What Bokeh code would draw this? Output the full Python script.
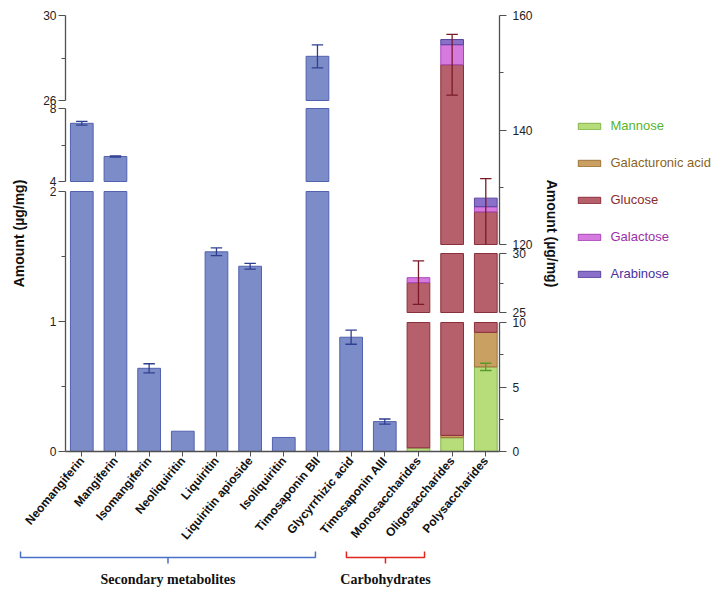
import math
from bokeh.plotting import figure
from bokeh.models import Range1d, LinearAxis, FixedTicker, Legend, LegendItem
from bokeh.layouts import row, column
from bokeh.core.properties import value
from bokeh.embed import file_html
from bokeh.resources import INLINE

# ---------------- data ----------------
metabolites = ["Neomangiferin", "Mangiferin", "Isomangiferin", "Neoliquiritin", "Liquiritin",
               "Liquiritin apioside", "Isoliquiritin", "Timosaponin BII", "Glycyrrhizic acid",
               "Timosaponin AIII"]
metab_mean = [7.19, 5.37, 0.64, 0.156, 1.536, 1.425, 0.108, 28.08, 0.879, 0.23]
metab_err = [0.10, 0.03, 0.035, 0.0, 0.03, 0.022, 0.0, 0.54, 0.054, 0.02]

carbs = ["Monosaccharides", "Oligosaccharides", "Polysaccharides"]
sugars = ["Mannose", "Galacturonic acid", "Glucose", "Galactose", "Arabinose"]
mannose = [0.28, 1.07, 6.56]
galacturonic = [0.0, 0.18, 2.68]
glucose = [27.25, 150.15, 116.46]
galactose = [0.42, 3.5, 0.9]
arabinose = [0.0, 0.9, 1.5]
mannose_err = [0.0, 0.0, 0.28]
galacturonic_err = [0.0, 0.0, 0.0]
glucose_err = [1.84, 5.3, 5.8]
galactose_err = [0.0, 0.0, 0.0]
arabinose_err = [0.0, 0.0, 0.0]

# group name, bracket start, bracket end (category units)
groups = [("Secondary metabolites", -1.82, 6.94), ("Carbohydrates", 7.86, 10.18)]

left_breaks = [(0, 2), (4, 8), (26, 30)]
left_major = [0, 1, 2, 4, 8, 26, 30]
left_minor = [0.5, 1.5, 6, 28]
right_breaks = [(0, 10), (25, 30), (120, 160)]
right_major = [0, 5, 10, 25, 30, 120, 140, 160]
right_minor = [2.5, 7.5, 27.5, 130, 150]

# ---------------- styles ----------------
BLUE_FILL, BLUE_LINE, BLUE_ERR = "#7b8cc8", "#5262ae", "#2f3f8f"
sugar_fill = ["#b7dc7a", "#c9a062", "#b5606b", "#d77ae0", "#8a70c8"]
sugar_line = ["#82b54a", "#9c7438", "#8a2f3c", "#a848b8", "#5a43a0"]
sugar_err = ["#5a9a2a", "#7a5420", "#7a1a28", "#8a2a9a", "#3a2a80"]
sugar_text = ["#56b52c", "#8a6424", "#8b2c2c", "#9b30a8", "#4a30a0"]
AXIS_COLOR = "#505050"
FONT = "Liberation Sans"

# ---------------- layout ----------------
FRAME_W, FRAME_H = 434, 436
BORDER_L, BORDER_T, BORDER_R, BORDER_B = 65, 15, 66, 95
X_START, X_END = -0.484, 12.407
LEFT_PX = [(0, 260), (270, 343), (351, 436)]
RIGHT_PX = [(0, 129), (139, 198), (207, 436)]
BAR_W = 0.675
CAP_HALF = 0.17
TOTAL_W = 720
MAIN_W = BORDER_L + FRAME_W + BORDER_R
MAIN_H = BORDER_T + FRAME_H + BORDER_B
LEG_W = TOTAL_W - MAIN_W
BR_H = 38


def to_virtual(v, breaks, px):
    for (d0, d1), (p0, p1) in zip(breaks, px):
        if d0 <= v <= d1:
            return p0 + (v - d0) / (d1 - d0) * (p1 - p0)
    raise ValueError(v)


def seg_range(d0, d1, p0, p1):
    s = (d1 - d0) / (p1 - p0)
    start = d0 - p0 * s
    return Range1d(start, start + FRAME_H * s)


def dash_for(px):
    parts = []
    for k, (p0, p1) in enumerate(px):
        parts.append(p1 - p0)
        if k + 1 < len(px):
            parts.append(px[k + 1][0] - p1)
    parts.append(100)
    return " ".join(str(int(round(v))) for v in parts)


p = figure(frame_width=FRAME_W, frame_height=FRAME_H,
           x_range=Range1d(X_START, X_END), y_range=Range1d(0, FRAME_H),
           output_backend="svg", toolbar_location=None,
           min_border_left=BORDER_L, min_border_top=BORDER_T,
           min_border_right=BORDER_R, min_border_bottom=BORDER_B,
           outline_line_color=None, background_fill_color="white", border_fill_color="white")
p.grid.visible = False

for k, ((d0, d1), (p0, p1)) in enumerate(zip(left_breaks, LEFT_PX)):
    p.extra_y_ranges[f"L{k}"] = seg_range(d0, d1, p0, p1)
for k, ((d0, d1), (p0, p1)) in enumerate(zip(right_breaks, RIGHT_PX)):
    p.extra_y_ranges[f"R{k}"] = seg_range(d0, d1, p0, p1)


def style_axis(ax):
    ax.axis_line_color = AXIS_COLOR
    ax.axis_line_width = 1.3
    ax.major_tick_line_color = AXIS_COLOR
    ax.minor_tick_line_color = AXIS_COLOR
    ax.major_tick_line_width = 1.2
    ax.minor_tick_line_width = 1.2
    ax.major_tick_out = 7
    ax.major_tick_in = 0
    ax.minor_tick_out = 4
    ax.minor_tick_in = 0
    ax.major_label_text_font = FONT
    ax.major_label_text_font_size = "12px"
    ax.major_label_text_color = "#222222"
    ax.axis_label_text_font = FONT
    ax.axis_label_text_font_size = "14px"
    ax.axis_label_text_font_style = "bold"
    ax.axis_label_text_color = "#111111"


# left axis
lmaj = [to_virtual(v, left_breaks, LEFT_PX) for v in left_major]
lmin = [to_virtual(v, left_breaks, LEFT_PX) for v in left_minor]
yl = p.yaxis[0]
yl.ticker = FixedTicker(ticks=lmaj, minor_ticks=lmin)
yl.major_label_overrides = {t: str(v) for t, v in zip(lmaj, left_major)}
style_axis(yl)
yl.axis_line_dash = dash_for(LEFT_PX)
yl.major_label_standoff = 2
yl.axis_label = "Amount (µg/mg)"
yl.axis_label_standoff = 13

# right axis
rmaj = [to_virtual(v, right_breaks, RIGHT_PX) for v in right_major]
rmin = [to_virtual(v, right_breaks, RIGHT_PX) for v in right_minor]
yr = LinearAxis(ticker=FixedTicker(ticks=rmaj, minor_ticks=rmin))
yr.major_label_overrides = {t: str(v) for t, v in zip(rmaj, right_major)}
style_axis(yr)
yr.axis_line_dash = dash_for(RIGHT_PX)
yr.major_label_standoff = 6
yr.axis_label = "Amount (µg/mg)"
yr.axis_label_standoff = 8
p.add_layout(yr, "right")

# x axis
all_cats = metabolites + carbs
xa = p.xaxis[0]
xa.ticker = FixedTicker(ticks=list(range(len(all_cats))), minor_ticks=[])
xa.major_label_overrides = {i: name for i, name in enumerate(all_cats)}
xa.major_label_orientation = math.radians(50)
xa.axis_line_color = AXIS_COLOR
xa.axis_line_width = 1.3
xa.major_tick_line_color = AXIS_COLOR
xa.major_tick_out = 5
xa.major_tick_in = 0
xa.minor_tick_line_color = None
xa.major_label_text_font = FONT
xa.major_label_text_font_size = "12px"
xa.major_label_text_font_style = "bold"
xa.major_label_text_color = "#111111"
xa.major_label_standoff = 2


def add_pieces(xs, bottoms, tops, breaks, prefix, fill, line):
    for k, (d0, d1) in enumerate(breaks):
        px, pb, pt = [], [], []
        for x, b, t in zip(xs, bottoms, tops):
            lo, hi = max(b, d0), min(t, d1)
            if hi > lo:
                px.append(x); pb.append(lo); pt.append(hi)
        if px:
            p.vbar(x=px, bottom=pb, top=pt, width=BAR_W, y_range_name=f"{prefix}{k}",
                   fill_color=fill, line_color=line, line_width=1)


def add_errors(xs, centers, errs, breaks, prefix, color):
    for k, (d0, d1) in enumerate(breaks):
        x0, y0, x1, y1 = [], [], [], []
        for x, c, e in zip(xs, centers, errs):
            if e <= 0 or not (d0 <= c <= d1):
                continue
            lo, hi = c - e, c + e
            x0.append(x); x1.append(x); y0.append(max(lo, d0)); y1.append(min(hi, d1))
            if hi <= d1:
                x0.append(x - CAP_HALF); x1.append(x + CAP_HALF); y0.append(hi); y1.append(hi)
            if lo >= d0:
                x0.append(x - CAP_HALF); x1.append(x + CAP_HALF); y0.append(lo); y1.append(lo)
        if x0:
            p.segment(x0=x0, y0=y0, x1=x1, y1=y1, y_range_name=f"{prefix}{k}",
                      line_color=color, line_width=1.3)


# secondary metabolites
mx = list(range(len(metabolites)))
add_pieces(mx, [0] * len(mx), metab_mean, left_breaks, "L", BLUE_FILL, BLUE_LINE)

# carbohydrates (stacked)
cx = [len(metabolites) + j for j in range(len(carbs))]
series = [mannose, galacturonic, glucose, galactose, arabinose]
series_err = [mannose_err, galacturonic_err, glucose_err, galactose_err, arabinose_err]
base = [0.0] * len(carbs)
err_calls = []
for i, vals in enumerate(series):
    tops = [b + v for b, v in zip(base, vals)]
    xs_nz = [x for x, v in zip(cx, vals) if v > 0]
    b_nz = [b for b, v in zip(base, vals) if v > 0]
    t_nz = [t for t, v in zip(tops, vals) if v > 0]
    add_pieces(xs_nz, b_nz, t_nz, right_breaks, "R", sugar_fill[i], sugar_line[i])
    err_calls.append((list(cx), list(tops), series_err[i], sugar_err[i]))
    base = tops

add_errors(mx, metab_mean, metab_err, left_breaks, "L", BLUE_ERR)
for xs, cs, es, col in err_calls:
    add_errors(xs, cs, es, right_breaks, "R", col)

# ---------------- legend figure ----------------
# (frames in a row share vertical alignment: legend y measured from frame bottom)
LEG_X0 = 9.5
LEG_FIRST_CENTER = 128   # px from top of page
LEG_STEP = 37.1
ITEM_H = 16
FRAME_BOTTOM = BORDER_T + FRAME_H
lg = figure(width=LEG_W, height=MAIN_H, x_range=Range1d(0, LEG_W), y_range=Range1d(0, MAIN_H),
            x_axis_type=None, y_axis_type=None, toolbar_location=None, output_backend="svg",
            min_border=0, outline_line_color=None, background_fill_color="white",
            border_fill_color="white")
lg.grid.visible = False
for i, name in enumerate(sugars):
    r = lg.vbar(x=[-5000], bottom=[-5000], top=[-4999], width=1,
                fill_color=sugar_fill[i], line_color=sugar_line[i])
    r.visible = False
    cy = LEG_FIRST_CENTER + i * LEG_STEP
    leg = Legend(items=[LegendItem(label=name, renderers=[r])],
                 location=(LEG_X0, FRAME_BOTTOM - cy - ITEM_H / 2),
                 padding=0, margin=0, spacing=0, border_line_color=None,
                 background_fill_alpha=0, glyph_width=28, glyph_height=8,
                 label_standoff=8, label_height=8,
                 label_text_font=FONT, label_text_font_size="13px",
                 label_text_color=sugar_text[i])
    lg.add_layout(leg)

# ---------------- bracket figure ----------------
ppu = FRAME_W / (X_END - X_START)
bx_start = X_START - BORDER_L / ppu
bf = figure(width=TOTAL_W, height=BR_H, x_range=Range1d(bx_start, bx_start + TOTAL_W / ppu),
            y_range=Range1d(BR_H, 0), x_axis_type=None, y_axis_type=None,
            toolbar_location=None, output_backend="svg", min_border=0,
            outline_line_color=None, background_fill_color="white", border_fill_color="white")
bf.grid.visible = False
bracket_colors = ["#4a6fc6", "#e0261f"]
for (name, xa0, xa1), col in zip(groups, bracket_colors):
    xc = (xa0 + xa1) / 2
    bf.line(x=[xa0, xa0, xa1, xa1], y=[2, 8, 8, 2], line_color=col, line_width=1.5)
    bf.line(x=[xc, xc], y=[8, 14], line_color=col, line_width=1.5)
    bf.text(x=[xc], y=[30], text=[name], text_font=value("Liberation Serif"),
            text_font_size="14px", text_font_style="bold", text_color="#111111",
            text_align="center", text_baseline="middle")

layout = column(row(p, lg, spacing=0), bf, spacing=0)
open("out.html", "w").write(file_html(layout, INLINE))
